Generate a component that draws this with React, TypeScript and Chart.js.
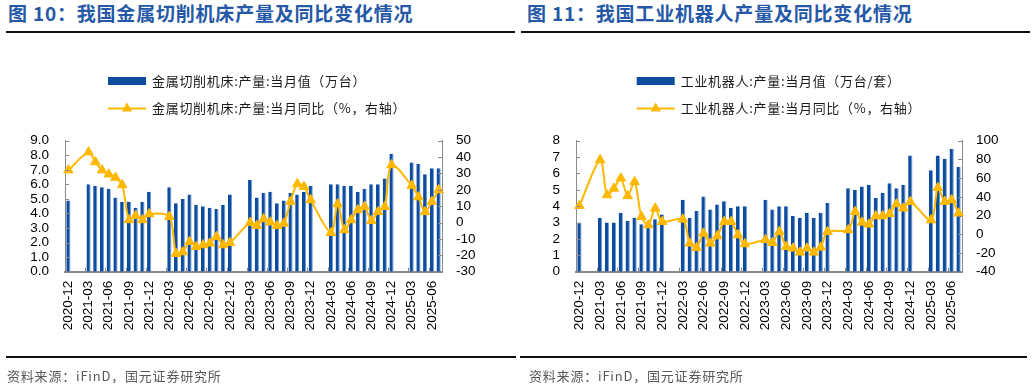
import React, { useEffect, useRef } from 'react';
import { Chart, registerables } from 'chart.js';

Chart.register(...registerables);

// ---------------- data ----------------
const months: string[] = [
  '2020-12',
  '2021-01', '2021-02', '2021-03', '2021-04', '2021-05', '2021-06', '2021-07', '2021-08', '2021-09', '2021-10', '2021-11', '2021-12',
  '2022-01', '2022-02', '2022-03', '2022-04', '2022-05', '2022-06', '2022-07', '2022-08', '2022-09', '2022-10', '2022-11', '2022-12',
  '2023-01', '2023-02', '2023-03', '2023-04', '2023-05', '2023-06', '2023-07', '2023-08', '2023-09', '2023-10', '2023-11', '2023-12',
  '2024-01', '2024-02', '2024-03', '2024-04', '2024-05', '2024-06', '2024-07', '2024-08', '2024-09', '2024-10', '2024-11', '2024-12',
  '2025-01', '2025-02', '2025-03', '2025-04', '2025-05', '2025-06', '2025-07',
];

const tickLabels: string[] = [
  '2020-12', '2021-03', '2021-06', '2021-09', '2021-12', '2022-03', '2022-06', '2022-09', '2022-12',
  '2023-03', '2023-06', '2023-09', '2023-12', '2024-03', '2024-06', '2024-09', '2024-12', '2025-03', '2025-06',
];

// 金属切削机床:产量:当月值（万台）
const toolOutput: (number | null)[] = [
  4.9,
  null, null, 6.0, 5.9, 5.8, 5.7, 5.1, 4.8, 4.8, 4.4, 4.8, 5.5,
  null, null, 5.8, 4.7, 5.0, 5.3, 4.6, 4.5, 4.4, 4.3, 4.6, 5.3,
  null, null, 6.3, 5.1, 5.4, 5.5, 4.7, 4.9, 5.4, 5.3, 5.5, 5.9,
  null, null, 6.0, 6.0, 5.9, 5.9, 5.5, 5.7, 6.0, 6.0, 6.4, 8.1,
  null, null, 7.5, 7.4, 6.7, 7.1, 7.1,
];

// 金属切削机床:产量:当月同比（%）
const toolYoY: (number | null)[] = [
  32,
  null, null, 43, 37, 32, 29.5, 27.5, 23, 1.6, 4.2, 1.6, 5.2,
  null, null, 3.6, -19, -18, -11.7, -14.7, -13.7, -12.7, -8.6, -13.7, -12.3,
  null, null, 0, -1.9, 2.2, 0.2, -1.9, -0.5, 12.8, 23.6, 21.9, 13.8,
  null, null, -6.2, 11.3, -4.5, 1.6, 7.7, 9.7, 1.1, 6.6, 9.7, 35.2,
  null, null, 22.6, 15.6, 6.5, 12.8, 19.9,
];

// 工业机器人:产量:当月值（万台/套）
const robotOutput: (number | null)[] = [
  3.0,
  null, null, 3.3, 3.0, 3.0, 3.6, 3.1, 3.3, 2.9, 2.7, 3.2, 3.5,
  null, null, 4.4, 3.3, 3.7, 4.6, 3.8, 4.1, 4.3, 3.9, 4.0, 4.0,
  null, null, 4.4, 3.8, 4.0, 4.0, 3.4, 3.3, 3.6, 3.3, 3.6, 4.2,
  null, null, 5.1, 5.0, 5.2, 5.3, 4.5, 4.8, 5.4, 5.1, 5.3, 7.1,
  null, null, 6.2, 7.1, 6.9, 7.5, 6.4,
];

// 工业机器人:产量:当月同比（%）
const robotYoY: (number | null)[] = [
  30.5,
  null, null, 79.4, 42, 49, 59.8, 41, 56, 18.8, 9.9, 27.7, 13.4,
  null, null, 16, -9.7, -14.5, 1, -9.7, -1.9, 13.4, 13.4, -0.8, -10.4,
  null, null, -6, -9, 2.7, -13.3, -15, -19.3, -15, -19.3, -14, 2.7,
  null, null, 4.6, 24.1, 12.7, 10.6, 19.5, 19.5, 21.7, 32.3, 27.8, 34.8,
  null, null, 15.2, 49.8, 34.8, 36.6, 22.4,
];

// ---------------- style ----------------
const BAR = '#0d4c9e';
const BAR_EDGE = '#6f9fd6';
const LINE = '#FFB800';
const AXIS = '#8a8a8a';
const TITLE = '#2558a6';
const CJK = '"Noto Sans CJK SC", sans-serif';

Chart.defaults.font.family = '"Liberation Sans", Arial, sans-serif';

const decorPlugin = {
  id: 'decor',
  afterDraw(chart: any, _args: any, opts: any) {
    const ctx: CanvasRenderingContext2D = chart.ctx;
    const { left, right, bottom } = chart.chartArea;
    const x = chart.scales.x;
    const y = chart.scales.y;
    const y1 = chart.scales.y1;
    ctx.save();
    ctx.strokeStyle = AXIS;
    ctx.lineWidth = 1;
    ctx.beginPath();
    y.ticks.forEach((t: any) => {
      const p = Math.round(y.getPixelForValue(t.value)) + 0.5;
      ctx.moveTo(left, p);
      ctx.lineTo(left + 4, p);
    });
    y1.ticks.forEach((t: any) => {
      const p = Math.round(y1.getPixelForValue(t.value)) + 0.5;
      ctx.moveTo(right - 4, p);
      ctx.lineTo(right, p);
    });
    const w = x.getPixelForValue(1) - x.getPixelForValue(0);
    months.forEach((m, i) => {
      if (tickLabels.includes(m) && i > 0) {
        const p = Math.round(x.getPixelForValue(i) - w / 2) + 0.5;
        ctx.moveTo(p, bottom);
        ctx.lineTo(p, bottom - 4);
      }
    });
    ctx.stroke();

    // legend
    const lx = opts.legendX;
    ctx.fillStyle = BAR;
    ctx.fillRect(lx, 77, 38, 8);
    ctx.strokeStyle = LINE;
    ctx.lineWidth = 2;
    ctx.beginPath();
    ctx.moveTo(lx, 108.5);
    ctx.lineTo(lx + 38, 108.5);
    ctx.stroke();
    const cx = lx + 19;
    const cy = 108.5;
    const r = 6;
    ctx.fillStyle = LINE;
    ctx.beginPath();
    for (let k = 0; k < 3; k++) {
      const a = (k * 2 * Math.PI) / 3;
      const px = cx + Math.sin(a) * r;
      const py = cy - Math.cos(a) * r;
      if (k === 0) ctx.moveTo(px, py);
      else ctx.lineTo(px, py);
    }
    ctx.closePath();
    ctx.fill();
    ctx.font = '13px ' + CJK;
    ctx.fillStyle = '#1a1a1a';
    ctx.textBaseline = 'middle';
    ctx.textAlign = 'left';
    (ctx as any).letterSpacing = '0.7px';
    ctx.fillText(opts.barLabel, lx + 44, 81);
    ctx.fillText(opts.lineLabel, lx + 44, 108.5);
    ctx.restore();
  },
};

type Panel = {
  bars: (number | null)[];
  yoy: (number | null)[];
  barLabel: string;
  lineLabel: string;
  yMax: number;
  yDecimals: number;
  y1Min: number;
  y1Max: number;
  y1Step: number;
  leftW: number;
  rightW: number;
  legendX: number;
};

function buildConfig(p: Panel): any {
  const tickFont = { size: 13.5 };
  return {
    type: 'bar',
    data: {
      labels: months,
      datasets: [
        {
          type: 'line',
          label: p.lineLabel,
          data: p.yoy,
          yAxisID: 'y1',
          borderColor: LINE,
          backgroundColor: LINE,
          borderWidth: 2,
          pointStyle: 'triangle',
          pointRadius: 5.5,
          pointBorderWidth: 1,
          pointBackgroundColor: LINE,
          pointBorderColor: LINE,
          tension: 0.3,
          spanGaps: true,
          order: 0,
        },
        {
          type: 'bar',
          label: p.barLabel,
          data: p.bars,
          yAxisID: 'y',
          backgroundColor: BAR,
          borderColor: BAR_EDGE,
          borderWidth: { left: 0, top: 0, bottom: 0, right: 1 },
          barPercentage: 0.62,
          categoryPercentage: 1,
          order: 1,
        },
      ],
    },
    options: {
      responsive: false,
      maintainAspectRatio: false,
      animation: false,
      layout: { padding: { top: 140.7, bottom: 55.3, left: 0, right: 0 } },
      plugins: {
        legend: { display: false },
        tooltip: { enabled: false },
        decor: { legendX: p.legendX, barLabel: p.barLabel, lineLabel: p.lineLabel },
      },
      scales: {
        x: {
          offset: true,
          grid: { display: false, drawTicks: false },
          border: { color: AXIS, width: 2 },
          ticks: {
            autoSkip: false,
            minRotation: 90,
            maxRotation: 90,
            padding: 9,
            color: '#000',
            font: tickFont,
            callback: (_v: any, i: number) => (tickLabels.includes(months[i]) ? months[i] : ''),
          },
          afterFit: (s: any) => {
            s.height = 60;
          },
        },
        y: {
          position: 'left',
          min: 0,
          max: p.yMax,
          grid: { display: false, drawTicks: false },
          border: { color: AXIS, width: 1 },
          ticks: {
            autoSkip: false,
            stepSize: 1,
            padding: 16,
            color: '#000',
            font: tickFont,
            callback: (v: any) => Number(v).toFixed(p.yDecimals),
          },
          afterFit: (s: any) => {
            s.width = p.leftW;
          },
        },
        y1: {
          position: 'right',
          min: p.y1Min,
          max: p.y1Max,
          grid: { display: false, drawTicks: false },
          border: { color: AXIS, width: 1 },
          ticks: {
            autoSkip: false,
            stepSize: p.y1Step,
            padding: 14,
            color: '#000',
            font: tickFont,
          },
          afterFit: (s: any) => {
            s.width = p.rightW;
          },
        },
      },
    },
    plugins: [decorPlugin],
  };
}

function PanelChart({ spec, left }: { spec: Panel; left: number }) {
  const ref = useRef<HTMLCanvasElement | null>(null);
  useEffect(() => {
    if (!ref.current) return;
    const chart = new Chart(ref.current, buildConfig(spec));
    return () => chart.destroy();
  }, [spec]);
  return (
    <canvas
      ref={ref}
      width={516}
      height={387}
      style={{ position: 'absolute', left, top: 0, width: 516, height: 387, display: 'block' }}
    />
  );
}

const leftSpec: Panel = {
  bars: toolOutput,
  yoy: toolYoY,
  barLabel: '金属切削机床:产量:当月值（万台）',
  lineLabel: '金属切削机床:产量:当月同比（%，右轴）',
  yMax: 9,
  yDecimals: 1,
  y1Min: -30,
  y1Max: 50,
  y1Step: 10,
  leftW: 65,
  rightW: 74,
  legendX: 108,
};

const rightSpec: Panel = {
  bars: robotOutput,
  yoy: robotYoY,
  barLabel: '工业机器人:产量:当月值（万台/套）',
  lineLabel: '工业机器人:产量:当月同比（%，右轴）',
  yMax: 8,
  yDecimals: 0,
  y1Min: -40,
  y1Max: 100,
  y1Step: 20,
  leftW: 60,
  rightW: 70,
  legendX: 120.7,
};

const titleStyle: React.CSSProperties = {
  position: 'absolute',
  top: 2,
  fontFamily: CJK,
  fontWeight: 700,
  fontSize: 19,
  lineHeight: '22px',
  letterSpacing: '0.8px',
  color: TITLE,
  whiteSpace: 'nowrap',
};

const sourceStyle: React.CSSProperties = {
  position: 'absolute',
  top: 368,
  fontFamily: CJK,
  fontSize: 13,
  lineHeight: '16px',
  letterSpacing: '0.8px',
  color: '#595959',
  whiteSpace: 'nowrap',
};

const rule = (left: number, top: number, width: number): React.CSSProperties => ({
  position: 'absolute',
  left,
  top,
  width,
  height: 2,
  background: '#111',
});

export default function App() {
  return (
    <div
      style={{
        position: 'fixed',
        left: 0,
        top: 0,
        width: 1032,
        height: 387,
        background: '#fff',
        overflow: 'hidden',
      }}
    >
      <div style={{ ...titleStyle, left: 8 }}>图 10：我国金属切削机床产量及同比变化情况</div>
      <div style={{ ...titleStyle, left: 527 }}>图 11：我国工业机器人产量及同比变化情况</div>
      <div style={rule(6, 31, 509)} />
      <div style={rule(521, 31, 509)} />
      <PanelChart spec={leftSpec} left={0} />
      <PanelChart spec={rightSpec} left={516} />
      <div style={rule(6, 356, 510)} />
      <div style={rule(520, 356, 507)} />
      <div style={{ ...sourceStyle, left: 7 }}>资料来源：iFinD，国元证券研究所</div>
      <div style={{ ...sourceStyle, left: 529 }}>资料来源：iFinD，国元证券研究所</div>
    </div>
  );
}
